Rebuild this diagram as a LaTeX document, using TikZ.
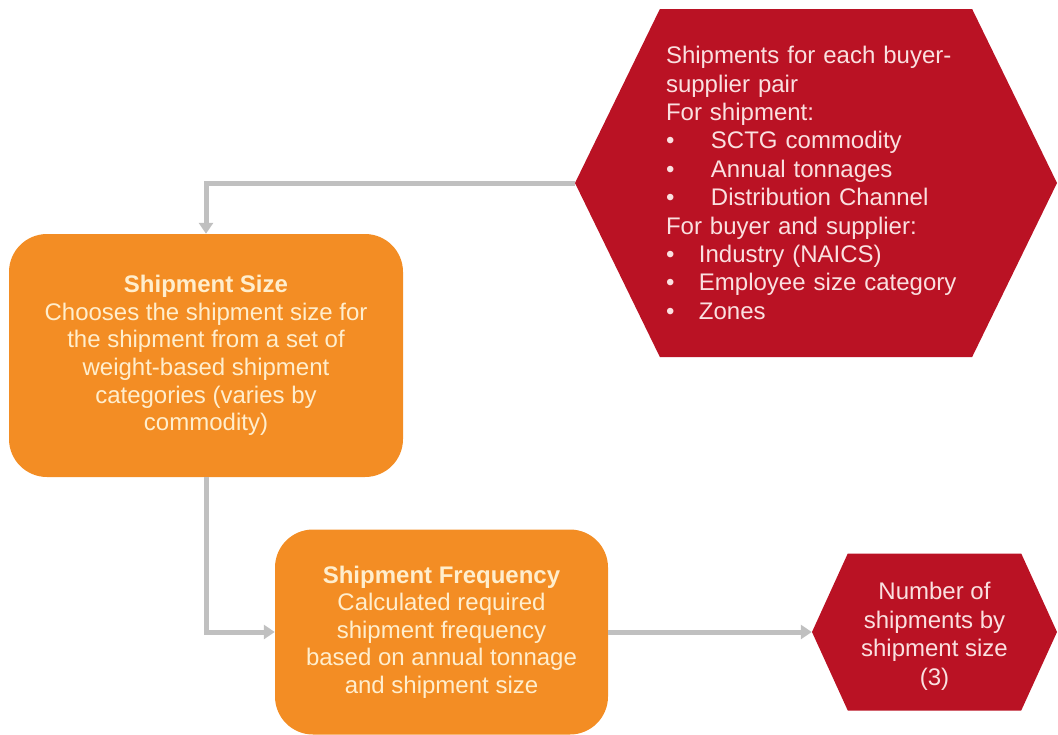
\documentclass[tikz,border=0pt]{standalone}
\usepackage{fontspec}
\setmainfont{Liberation Sans}
\usetikzlibrary{shapes.symbols,arrows.meta}
\definecolor{boxorange}{RGB}{243,141,36}
\definecolor{hexred}{RGB}{186,18,36}
\definecolor{arrowgray}{RGB}{192,192,192}
\definecolor{orangetext}{RGB}{255,238,205}
\definecolor{redtext}{RGB}{250,224,224}

\begin{document}
\begin{tikzpicture}[x=1pt,y=1pt,yscale=-1,xscale=1,
  stepbox/.style={rounded corners=38pt,fill=boxorange,text=orangetext,align=center,
    font=\fontsize{24}{27.6}\selectfont,inner sep=0pt},
  datahex/.style={shape=signal,signal to=east and west,fill=hexred,text=redtext,
    font=\fontsize{24}{28.4}\selectfont,inner sep=0pt},
  flow/.style={draw=arrowgray,line width=5pt,-{Triangle[width=14pt,length=11pt]}}]
\useasboundingbox (0,0) rectangle (1058,734);

%Input data hexagon
\node [datahex,signal pointer angle=128,minimum width=482pt,minimum height=348pt,
  text width=300pt,align=left] (inhex) at (816,183)
 {Shipments for each buyer-\\
  supplier pair\\
  For shipment:\\
  \makebox[45pt][l]{\textbullet}SCTG commodity\\
  \makebox[45pt][l]{\textbullet}Annual tonnages\\
  \makebox[45pt][l]{\textbullet}Distribution Channel\\
  For buyer and supplier:\\
  \makebox[33pt][l]{\textbullet}Industry (NAICS)\\
  \makebox[33pt][l]{\textbullet}Employee size category\\
  \makebox[33pt][l]{\textbullet}Zones};

%Shipment size box
\node [stepbox,minimum width=394pt,minimum height=243pt] (sizebox) at (206,355.5)
 {\textbf{Shipment Size}\\
  Chooses the shipment size for\\
  the shipment from a set of\\
  weight-based shipment\\
  categories (varies by\\
  commodity)};

%Shipment frequency box
\node [stepbox,minimum width=333pt,minimum height=205pt] (freqbox) at (441.5,632)
 {\textbf{Shipment Frequency}\\
  Calculated required\\
  shipment frequency\\
  based on annual tonnage\\
  and shipment size};

%Output hexagon
\node [datahex,signal pointer angle=131,minimum width=245pt,minimum height=157pt,
  align=center,font=\fontsize{24}{28.4}\selectfont] (outhex) at (934.5,632)
 {\rule{0pt}{26pt}Number of\\
  shipments by\\
  shipment size\\
  (3)};

%Connectors
\draw [flow] (inhex.west) -| (sizebox.north);
\draw [flow] (sizebox.south) |- (freqbox.west);
\draw [flow] (freqbox.east) -- (outhex.west);

\end{tikzpicture}
\end{document}
